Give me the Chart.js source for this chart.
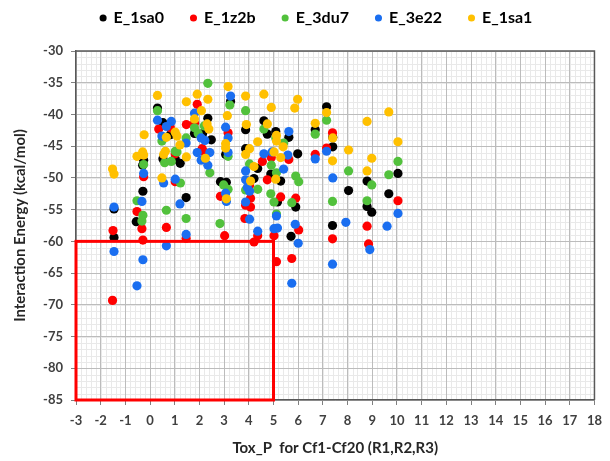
<!DOCTYPE html>
<html>
<head>
<meta charset="utf-8">
<script src="https://cdn.jsdelivr.net/npm/chart.js@4.4.0/dist/chart.umd.min.js"></script>
<style>
    body { margin: 0; background: #fff; }
</style>
</head>
<body>
<canvas id="tox_chart" width="610" height="461"></canvas>
<script>
// [Tox_P, energy] pairs
var e1sa0 = [
    [-1.46, -54.9], [-1.46, -59.4], [-0.56, -56.9], [-0.26, -47.2], [-0.30, -48.0], [-0.29, -52.1],
    [0.30, -39.0], [0.52, -41.3], [0.82, -43.2], [1.02, -47.0], [0.52, -47.0], [1.22, -47.7],
    [1.46, -53.1], [1.80, -43.0], [2.34, -40.6], [2.13, -43.0], [2.48, -44.0], [3.26, -37.9],
    [3.06, -46.3], [2.85, -50.6], [3.09, -50.7], [3.87, -42.4], [3.87, -45.4], [4.21, -50.1],
    [4.36, -48.5], [4.61, -41.0], [4.75, -43.1], [5.09, -42.7], [5.62, -43.6], [5.98, -46.2],
    [4.89, -49.4], [5.29, -50.5], [5.16, -53.8], [5.90, -54.6], [5.71, -59.2], [6.69, -42.4],
    [7.15, -38.8], [7.40, -43.6], [7.40, -45.1], [7.39, -57.5], [8.04, -52.0], [8.79, -50.5],
    [8.79, -54.5], [8.98, -55.4], [9.67, -52.5], [10.04, -49.3]
];
var e1z2b = [
    [-1.50, -58.3], [-1.52, -69.3], [-0.53, -55.3], [-0.33, -58.0], [-0.29, -59.8], [-0.26, -49.8],
    [0.35, -42.3], [0.82, -42.1], [1.02, -46.2], [1.02, -50.6], [0.66, -57.8], [1.47, -41.6],
    [1.46, -59.5], [1.91, -38.4], [1.80, -41.4], [2.11, -45.4], [2.22, -46.0], [3.16, -42.9],
    [2.85, -52.9], [3.02, -59.1], [4.03, -51.2], [4.07, -53.2], [3.87, -54.3], [4.07, -54.6],
    [3.84, -56.4], [4.21, -60.1], [4.36, -59.1], [4.55, -47.4], [4.91, -46.8], [4.75, -50.3],
    [5.02, -59.1], [5.12, -63.2], [5.29, -53.0], [5.62, -47.1], [5.90, -53.2], [6.02, -58.2],
    [5.74, -62.7], [6.69, -46.3], [7.39, -42.9], [7.15, -45.3], [7.39, -59.6], [8.79, -57.6],
    [8.85, -60.4], [10.04, -53.6]
];
var e3du7 = [
    [-0.53, -53.6], [-0.29, -55.9], [-0.33, -56.8], [-0.26, -47.9], [0.30, -39.4], [0.48, -44.2],
    [1.02, -45.8], [0.59, -47.6], [0.86, -47.4], [1.23, -50.8], [0.66, -55.1], [1.09, -45.9],
    [1.46, -43.7], [1.46, -56.4], [1.80, -42.1], [1.95, -43.0], [2.20, -41.8], [2.34, -35.1],
    [2.42, -49.2], [3.23, -38.5], [3.16, -46.6], [2.98, -51.1], [3.16, -51.8], [2.83, -57.2],
    [3.87, -39.4], [4.03, -47.8], [3.87, -51.9], [4.36, -51.8], [4.61, -42.3], [5.09, -43.7],
    [4.91, -48.0], [5.12, -49.2], [4.89, -52.5], [5.02, -53.8], [5.12, -55.7], [5.41, -44.5],
    [5.90, -49.7], [6.02, -50.6], [5.74, -53.9], [6.69, -43.1], [7.15, -40.9], [7.39, -53.7],
    [8.04, -48.9], [8.98, -51.1], [8.79, -53.6], [9.67, -49.5], [10.04, -47.4]
];
var e3e22 = [
    [-1.46, -54.6], [-1.46, -61.6], [-0.33, -53.7], [-0.29, -62.9], [-0.53, -67.0], [-0.26, -49.3],
    [0.30, -40.9], [0.86, -41.1], [0.66, -41.9], [0.48, -43.4], [0.55, -50.8], [1.02, -50.2],
    [0.66, -60.7], [1.21, -54.1], [1.46, -44.5], [1.46, -58.9], [1.80, -39.8], [2.07, -43.7],
    [2.22, -44.1], [1.91, -46.0], [2.42, -46.0], [2.07, -47.2], [2.34, -48.0], [3.26, -37.1],
    [3.06, -42.0], [3.16, -43.7], [3.16, -46.0], [3.09, -53.7], [3.06, -52.4], [3.87, -48.9],
    [3.87, -50.3], [3.94, -51.5], [4.03, -52.1], [3.87, -53.8], [4.03, -56.5], [4.36, -58.4],
    [4.61, -46.2], [4.94, -45.9], [5.02, -58.0], [5.16, -57.9], [5.12, -56.0], [5.62, -42.7],
    [5.58, -46.4], [5.41, -48.6], [5.88, -57.3], [6.00, -60.3], [5.74, -66.6], [6.69, -47.0],
    [7.15, -45.8], [7.40, -50.0], [7.39, -63.6], [7.93, -57.0], [8.90, -61.3], [9.60, -57.6],
    [10.04, -55.6]
];
var e1sa1 = [
    [-1.52, -48.6], [-1.46, -49.4], [-0.53, -46.6], [-0.30, -45.9], [-0.26, -46.4], [-0.24, -43.2],
    [0.30, -37.0], [0.66, -43.6], [1.02, -42.8], [0.62, -45.8], [0.55, -46.3], [1.21, -44.8],
    [0.48, -50.0], [1.47, -38.0], [1.47, -46.7], [1.09, -43.4], [1.91, -36.8], [2.34, -37.6],
    [2.08, -39.4], [1.80, -40.7], [2.31, -41.5], [2.38, -42.3], [2.24, -46.9], [3.16, -35.6],
    [3.13, -40.2], [3.06, -44.6], [3.06, -45.3], [3.09, -53.3], [3.87, -37.1], [3.90, -41.6],
    [4.03, -45.4], [3.87, -46.3], [4.07, -50.5], [4.21, -48.2], [4.36, -44.3], [4.61, -36.8],
    [4.91, -38.9], [4.75, -41.5], [5.12, -43.3], [5.12, -44.2], [5.02, -45.9], [5.29, -46.8],
    [5.09, -50.2], [5.39, -45.1], [5.98, -37.6], [5.86, -39.0], [6.69, -41.4], [7.15, -39.7],
    [7.40, -43.7], [7.39, -47.3], [8.04, -45.6], [8.79, -41.1], [8.98, -46.9], [8.79, -48.9],
    [9.67, -39.6], [10.04, -44.3]
];

var seriesNames = ["E_1sa0", "E_1z2b", "E_3du7", "E_3e22", "E_1sa1"];
var seriesColors = ["#000000", "#ff0000", "#52c13c", "#1a6ef0", "#ffc000"];

var xRange = [-3, 18];
var yRange = [-85, -30];
// red box marked on the plot
var boxX = [-3, 5];
var boxY = [-85, -60];

function toPoints(arr) {
    return arr.map(function(p) { return { x: p[0], y: p[1] }; });
}

var allSeries = [e1sa0, e1z2b, e3du7, e3e22, e1sa1];
var datasets = [];
for (var i = 0; i < allSeries.length; i++) {
    datasets.push({
        label: seriesNames[i],
        data: toPoints(allSeries[i]),
        backgroundColor: seriesColors[i],
        borderColor: seriesColors[i],
        borderWidth: 0,
        pointRadius: 4.6,
        pointHoverRadius: 4.6,
        order: allSeries.length - i
    });
}

// extra room under the legend, legend nudged right
var legendGap = {
    id: "legendGap",
    beforeInit: function(chart) {
        var fit = chart.legend.fit;
        chart.legend.fit = function() {
            fit.bind(chart.legend)();
            this.height += 15;
        };
    },
    afterLayout: function(chart) {
        chart.legend.left += 18;
        chart.legend.right += 18;
    }
};

// minor grid, plot frame and the red box
var decorPlugin = {
    id: "decor",
    beforeDraw: function(chart) {
        var ctx = chart.ctx, a = chart.chartArea;
        var xs = chart.scales.x, ys = chart.scales.y;
        ctx.save();
        ctx.fillStyle = "#fff";
        ctx.fillRect(0, 0, chart.width, chart.height);
        ctx.strokeStyle = "#e9e9e9";
        ctx.lineWidth = 1;
        ctx.beginPath();
        for (var v = xRange[0]; v <= xRange[1] + 1e-6; v += 0.2) {
            var px = Math.round(xs.getPixelForValue(v)) + 0.5;
            ctx.moveTo(px, a.top);
            ctx.lineTo(px, a.bottom);
        }
        for (var w = yRange[0]; w <= yRange[1]; w += 1) {
            var py = Math.round(ys.getPixelForValue(w)) + 0.5;
            ctx.moveTo(a.left, py);
            ctx.lineTo(a.right, py);
        }
        ctx.stroke();
        ctx.restore();
    },
    afterDatasetsDraw: function(chart) {
        var ctx = chart.ctx, a = chart.chartArea;
        var xs = chart.scales.x, ys = chart.scales.y;
        ctx.save();
        ctx.strokeStyle = "#595959";
        ctx.lineWidth = 1.5;
        ctx.beginPath();
        ctx.moveTo(a.left, a.top);
        ctx.lineTo(a.right, a.top);
        ctx.lineTo(a.right, a.bottom);
        ctx.stroke();
        ctx.strokeStyle = "#ff0000";
        ctx.lineWidth = 3;
        var x0 = xs.getPixelForValue(boxX[0]), x1 = xs.getPixelForValue(boxX[1]);
        var y0 = ys.getPixelForValue(boxY[0]), y1 = ys.getPixelForValue(boxY[1]);
        ctx.strokeRect(x0, y1, x1 - x0, y0 - y1);
        ctx.restore();
    }
};

var tickFont = { family: "Lato", size: 13, weight: "bold" };
var titleFont = { family: "Lato", size: 15, weight: "bold" };

var canvas = document.getElementById("tox_chart");
var tox_chart = new Chart(canvas, {
    type: "scatter",
    data: { datasets: datasets },
    options: {
        responsive: false,
        devicePixelRatio: 1,
        animation: false,
        layout: { padding: { top: -17, right: 13, left: 0, bottom: 0 } },
        plugins: {
            legend: {
                position: "top",
                labels: {
                    usePointStyle: true,
                    pointStyle: "circle",
                    boxWidth: 5,
                    boxHeight: 5,
                    padding: 27,
                    color: "#000",
                    font: { family: "Lato", size: 16, weight: "bold" },
                    sort: function(a, b) { return a.datasetIndex - b.datasetIndex; }
                }
            },
            tooltip: { enabled: false }
        },
        scales: {
            x: {
                type: "linear",
                min: xRange[0],
                max: xRange[1],
                ticks: { stepSize: 1, color: "#404040", font: tickFont, padding: 8, maxRotation: 0, autoSkip: false },
                grid: { color: "#bcbcbc", tickLength: 5, tickColor: "#808080" },
                border: { color: "#595959", width: 1.5 },
                title: { display: true, text: "Tox_P  for Cf1-Cf20 (R1,R2,R3)", color: "#262626", font: titleFont, padding: { top: 8 } },
                afterFit: function(scale) { scale.height = 61; }
            },
            y: {
                type: "linear",
                min: yRange[0],
                max: yRange[1],
                ticks: { stepSize: 5, color: "#404040", font: tickFont, padding: 8 },
                grid: { color: "#bcbcbc", tickLength: 5, tickColor: "#808080" },
                border: { color: "#595959", width: 1.5 },
                title: { display: true, text: "Interaction Energy (kcal/mol)", color: "#262626", font: titleFont, padding: { top: 11, bottom: 0 } },
                afterFit: function(scale) { scale.width = 76; }
            }
        }
    },
    plugins: [legendGap, decorPlugin]
});
</script>
</body>
</html>
